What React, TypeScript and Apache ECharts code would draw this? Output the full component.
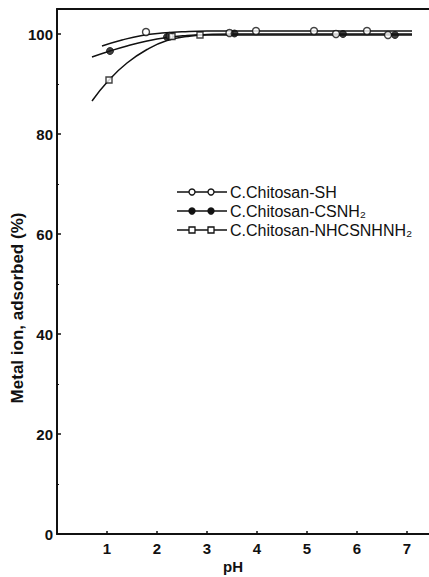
import React, { useEffect, useRef } from "react";
import * as echarts from "echarts";

// Marker data: [pH, % adsorbed]
const shPoints: number[][] = [[1.78, 100.4], [2.25, 99.6], [3.45, 100.2], [3.98, 100.6], [5.14, 100.6], [5.58, 100.0], [6.2, 100.6], [6.62, 99.8]];
const csnhPoints: number[][] = [[1.06, 96.6], [2.2, 99.4], [3.55, 100.1], [5.72, 100.0], [6.76, 99.8]];
const nhcsPoints: number[][] = [[1.04, 90.8], [2.3, 99.5], [2.86, 99.8]];

// Fitted curves as drawn in the picture
const shCurve: number[][] = [[0.9, 97.6], [1.3, 98.8], [1.7, 99.7], [2.1, 100.2], [2.5, 100.45], [3.0, 100.6], [4.0, 100.6], [5.0, 100.6], [6.0, 100.6], [7.1, 100.6]];
const csnhCurve: number[][] = [[0.7, 95.4], [1.06, 96.6], [1.4, 97.6], [1.8, 98.6], [2.2, 99.3], [2.6, 99.7], [3.0, 99.9], [3.5, 100.0], [4.5, 100.0], [5.5, 100.0], [7.1, 100.0]];
const nhcsCurve: number[][] = [[0.7, 86.6], [1.04, 90.8], [1.4, 94.2], [1.8, 96.9], [2.2, 98.7], [2.6, 99.5], [3.0, 99.8], [4.0, 99.8], [5.0, 99.8], [6.0, 99.8], [7.1, 99.8]];

const legendNames = ["C.Chitosan-SH", "C.Chitosan-CSNH\u2082", "C.Chitosan-NHCSNHNH\u2082"];
const yTickLabels = [0, 20, 40, 60, 80, 100];
const xTickLabels = [1, 2, 3, 4, 5, 6, 7];

const BLACK = "#111";
const FONT = "Liberation Sans";

export default function App() {
  const ref = useRef<HTMLDivElement>(null);
  useEffect(() => {
    if (!ref.current) return;
    const chart = echarts.init(ref.current, undefined, { renderer: "svg" });

    const markerStyle = (kind: string) => {
      if (kind === "filled") return { color: BLACK, borderColor: BLACK, borderWidth: 1 };
      return { color: "#fff", borderColor: BLACK, borderWidth: 1.4 };
    };

    const legendRows = [
      { name: legendNames[0], symbol: "circle", kind: "open", y: 192 },
      { name: legendNames[1], symbol: "circle", kind: "filled", y: 211 },
      { name: legendNames[2], symbol: "rect", kind: "square", y: 230 },
    ];
    const legendGraphics: any[] = [];
    legendRows.forEach((r) => {
      legendGraphics.push({
        type: "line",
        shape: { x1: 177, y1: r.y, x2: 227, y2: r.y },
        style: { stroke: BLACK, lineWidth: 1.5 },
      });
      [192, 211].forEach((cx) => {
        const st: any = markerStyle(r.kind);
        if (r.symbol === "circle") {
          legendGraphics.push({
            type: "circle",
            shape: { cx, cy: r.y, r: 3 },
            style: { fill: st.color, stroke: st.borderColor, lineWidth: 1.3 },
          });
        } else {
          legendGraphics.push({
            type: "rect",
            shape: { x: cx - 3, y: r.y - 3, width: 6, height: 6 },
            style: { fill: st.color, stroke: st.borderColor, lineWidth: 1.3 },
          });
        }
      });
      legendGraphics.push({
        type: "text",
        x: 230,
        y: r.y,
        style: { text: r.name, fill: BLACK, font: `16px "${FONT}"`, textVerticalAlign: "middle" },
      });
    });

    const curve = (data: number[][]) => ({
      type: "line",
      data,
      smooth: 0.5,
      showSymbol: false,
      symbol: "none",
      lineStyle: { color: BLACK, width: 1.5 },
      silent: true,
      z: 2,
    });
    const markers = (name: string, data: number[][], symbol: string, kind: string) => ({
      type: "scatter",
      name,
      data,
      symbol,
      symbolSize: symbol === "rect" ? 6 : 7,
      itemStyle: markerStyle(kind),
      z: 3,
    });

    chart.setOption({
      animation: false,
      backgroundColor: "#fff",
      grid: { left: 57, top: 9, right: -2, bottom: 43, containLabel: false },
      xAxis: [
        {
          type: "value",
          min: 0,
          max: 7.44,
          interval: 1,
          axisLine: { show: true, lineStyle: { color: BLACK, width: 2 } },
          axisTick: { show: true, inside: true, length: 3, lineStyle: { color: BLACK, width: 1.5 } },
          splitLine: { show: false },
          axisLabel: {
            color: BLACK,
            fontFamily: FONT,
            fontWeight: "bold",
            fontSize: 15,
            margin: 7,
            showMaxLabel: false,
            formatter: (v: number) => (xTickLabels.includes(v) ? String(v) : ""),
          },
        },
        {
          type: "value",
          position: "top",
          min: 0,
          max: 7.44,
          axisLine: { show: true, lineStyle: { color: BLACK, width: 2 } },
          axisTick: { show: false },
          axisLabel: { show: false },
          splitLine: { show: false },
        },
      ],
      yAxis: {
        type: "value",
        min: 0,
        max: 105,
        interval: 20,
        axisLine: { show: true, lineStyle: { color: BLACK, width: 2 } },
        axisTick: { show: true, inside: true, length: 4, lineStyle: { color: BLACK, width: 1.5 } },
        minorTick: { show: true, splitNumber: 2, length: 2, lineStyle: { color: BLACK, width: 1 } },
        splitLine: { show: false },
        axisLabel: {
          color: BLACK,
          fontFamily: FONT,
          fontWeight: "bold",
          fontSize: 15,
          margin: 4,
          showMaxLabel: false,
          formatter: (v: number) => (yTickLabels.includes(v) ? String(v) : ""),
        },
      },
      graphic: [
        {
          type: "text",
          x: 17,
          y: 308,
          rotation: Math.PI / 2,
          style: {
            text: "Metal ion, adsorbed (%)",
            fill: BLACK,
            font: `bold 17px "${FONT}"`,
            align: "center",
            verticalAlign: "middle",
          },
        },
        {
          type: "text",
          x: 233,
          y: 566,
          style: {
            text: "pH",
            fill: BLACK,
            font: `bold 15px "${FONT}"`,
            align: "center",
            verticalAlign: "middle",
          },
        },
        ...legendGraphics,
      ],
      series: [
        curve(shCurve),
        curve(csnhCurve),
        curve(nhcsCurve),
        markers(legendNames[0], shPoints, "circle", "open"),
        markers(legendNames[1], csnhPoints, "circle", "filled"),
        markers(legendNames[2], nhcsPoints, "rect", "square"),
      ],
    });
    return () => chart.dispose();
  }, []);
  return (
    <div
      ref={ref}
      style={{ position: "absolute", left: 0, top: 0, width: 429, height: 577, background: "#fff" }}
    />
  );
}
